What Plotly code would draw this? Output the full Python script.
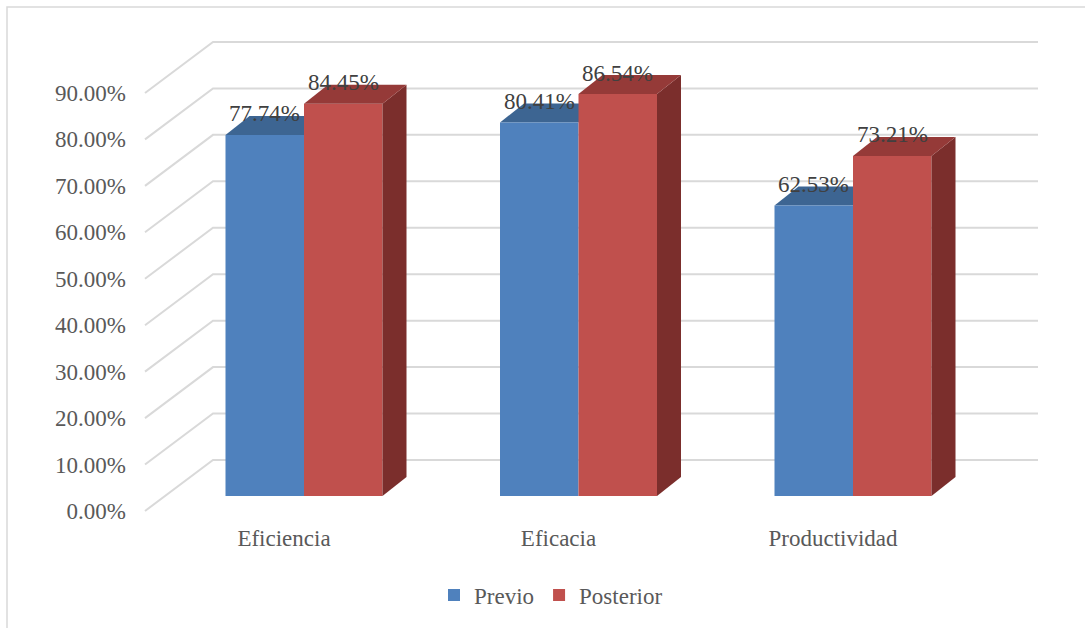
import plotly.graph_objects as go

# ---------------- data ----------------
categories = ["Eficiencia", "Eficacia", "Productividad"]
series_names = ["Previo", "Posterior"]
previo = [77.74, 80.41, 62.53]
posterior = [84.45, 86.54, 73.21]
y_ticks = [0, 10, 20, 30, 40, 50, 60, 70, 80, 90]
y_tick_labels = ["0.00%", "10.00%", "20.00%", "30.00%", "40.00%",
                 "50.00%", "60.00%", "70.00%", "80.00%", "90.00%"]

# ---------------- layout geometry (pixels) ----------------
W, H = 1085, 628
ML, MR, MT, MB = 133, 20, 20, 106
CAT_PX = 274.5      # px per category step
VAL_PX = 4.645      # px per percentage point
X0_PX, Y0_PX = 304, 496   # pixel of (category 0, value 0) on the bar front plane

def xd(px):  # pixel offset -> x data units
    return px / CAT_PX

def yd(px):  # pixel offset -> y data units
    return px / VAL_PX

x_range = [(ML - X0_PX) / CAT_PX, (W - MR - X0_PX) / CAT_PX]
y_range = [(Y0_PX - (H - MB)) / VAL_PX, (Y0_PX - MT) / VAL_PX]
FLOOR_DY = yd(15)           # front floor edge is 15px below bar plane
y2_range = [y_range[0] + FLOOR_DY, y_range[1] + FLOOR_DY]

BAR_W = xd(78.5)
DEPTH_X, DEPTH_Y = xd(24), yd(19)     # bar depth
FRONT_LEFT_X = xd(145 - X0_PX)        # front-left floor corner
WALL_LEFT_X = xd(213 - X0_PX)         # back wall left edge
WALL_RIGHT_X = xd(1038 - X0_PX)       # back wall right edge
WALL_DY = yd(36)                      # back wall above bar plane

FONT = "Liberation Serif"
GRID = "#D9D9D9"
BLUE, BLUE_TOP = "#4F81BD", "#3D6592"
RED, RED_TOP, RED_SIDE = "#C0504D", "#953A38", "#7B2E2C"

xs = list(range(len(categories)))
offsets = [-BAR_W, 0.0]

fig = go.Figure()
series = [previo, posterior]
colors = [BLUE, RED]
for name, vals, off, col in zip(series_names, series, offsets, colors):
    fig.add_trace(go.Bar(
        x=xs, y=vals, name=name, width=BAR_W, offset=off,
        marker=dict(color=col, line=dict(width=0)),
        hovertemplate="%{y:.2f}%<extra>" + name + "</extra>",
    ))

# invisible trace to activate the label axis (front floor plane)
fig.add_trace(go.Scatter(x=[0], y=[0], yaxis="y2", mode="markers",
                         marker=dict(opacity=0), showlegend=False, hoverinfo="skip"))

shapes = []
# back wall gridlines + floor diagonals
for v in y_ticks:
    path = (f"M {FRONT_LEFT_X},{v - FLOOR_DY} "
            f"L {WALL_LEFT_X},{v + WALL_DY} L {WALL_RIGHT_X},{v + WALL_DY}")
    shapes.append(dict(type="path", path=path, xref="x", yref="y", layer="below",
                       line=dict(color=GRID, width=2)))

# 3D faces
for i, x in enumerate(xs):
    # Previo top face (below traces so the Posterior front covers it)
    v = previo[i]
    x0, x1 = x + offsets[0], x + offsets[0] + BAR_W
    shapes.append(dict(type="path", xref="x", yref="y", layer="below",
                       path=f"M {x0},{v} L {x1},{v} L {x1 + DEPTH_X},{v + DEPTH_Y} "
                            f"L {x0 + DEPTH_X},{v + DEPTH_Y} Z",
                       fillcolor=BLUE_TOP, line=dict(width=0)))
    # Posterior side and top faces
    v = posterior[i]
    x0, x1 = x + offsets[1], x + offsets[1] + BAR_W
    shapes.append(dict(type="path", xref="x", yref="y", layer="above",
                       path=f"M {x1},0 L {x1},{v} L {x1 + DEPTH_X},{v + DEPTH_Y} "
                            f"L {x1 + DEPTH_X},{DEPTH_Y} Z",
                       fillcolor=RED_SIDE, line=dict(width=0)))
    shapes.append(dict(type="path", xref="x", yref="y", layer="above",
                       path=f"M {x0},{v} L {x1},{v} L {x1 + DEPTH_X},{v + DEPTH_Y} "
                            f"L {x0 + DEPTH_X},{v + DEPTH_Y} Z",
                       fillcolor=RED_TOP, line=dict(width=0)))

# chart border
plot_w, plot_h = W - ML - MR, H - MT - MB
shapes.append(dict(type="rect", xref="paper", yref="paper", layer="above",
                   x0=(7 - ML) / plot_w, x1=(W + 10 - ML) / plot_w,
                   y0=((H - MB) - (H + 10)) / plot_h, y1=((H - MB) - 7) / plot_h,
                   line=dict(color=GRID, width=1.5), fillcolor="rgba(0,0,0,0)"))

annotations = []
for vals, off in zip(series, offsets):
    for x, v in zip(xs, vals):
        annotations.append(dict(x=x + off + BAR_W / 2, y=v, xref="x", yref="y",
                                text=f"{v:.2f}%", showarrow=False, yshift=21,
                                font=dict(family=FONT, size=23, color="#404040")))

fig.update_layout(
    width=W, height=H,
    margin=dict(l=ML, r=MR, t=MT, b=MB, pad=0),
    paper_bgcolor="white", plot_bgcolor="white",
    barmode="overlay",
    showlegend=True,
    legend=dict(orientation="h", xref="container", yref="container",
                x=434 / W, xanchor="left", y=1 - 595 / H, yanchor="middle",
                font=dict(family=FONT, size=23, color="#595959"),
                bgcolor="rgba(0,0,0,0)"),
    xaxis=dict(range=x_range, tickvals=xs, ticktext=categories,
               showgrid=False, zeroline=False, showline=False, ticks="",
               ticklabelshift=-20,
               tickfont=dict(family=FONT, size=23, color="#595959")),
    yaxis=dict(range=y_range, showgrid=False, zeroline=False, showline=False,
               showticklabels=False, ticks=""),
    yaxis2=dict(range=y2_range, overlaying="y", side="left", anchor="x",
                tickvals=y_ticks, ticktext=y_tick_labels, ticklabelstandoff=6,
                showgrid=False, zeroline=False, showline=False, ticks="",
                tickfont=dict(family=FONT, size=23, color="#595959")),
    shapes=shapes,
    annotations=annotations,
)

fig.write_html("out.html")
